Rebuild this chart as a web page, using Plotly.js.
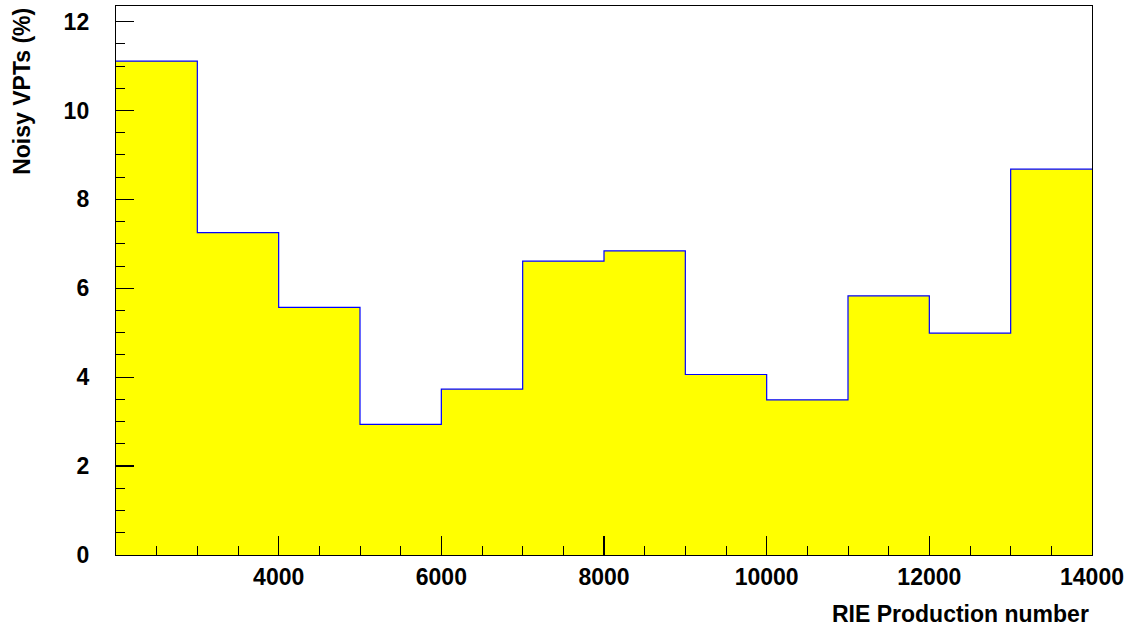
<!DOCTYPE html>
<html>
<head>
<meta charset="utf-8">
<script src="https://cdn.plot.ly/plotly-3.0.1.min.js"></script>
<style>
html,body{margin:0;padding:0;background:#fff;}
#chart{width:1129px;height:627px;}
</style>
</head>
<body>
<div id="chart"></div>
<script>
// Histogram bin edges (RIE production number) and contents (% noisy VPTs)
var binEdges = [2000, 3000, 4000, 5000, 6000, 7000, 8000, 9000, 10000, 11000, 12000, 13000, 14000];
var noisyPct = [11.11, 7.25, 5.57, 2.94, 3.73, 6.61, 6.84, 4.06, 3.49, 5.83, 4.99, 8.68];
var xTickVals = [4000, 6000, 8000, 10000, 12000, 14000];
var xTickText = ["4000", "6000", "8000", "10000", "12000", "14000"];
var yTickVals = [0, 2, 4, 6, 8, 10, 12];
var yTickText = ["0", "2", "4", "6", "8", "10", "12"];
var xTitle = "RIE Production number";
var yTitle = "Noisy VPTs (%)";

// build step outline from bins
var sx = [], sy = [];
for (var i = 0; i < noisyPct.length; i++) {
  sx.push(binEdges[i]); sy.push(noisyPct[i]);
  sx.push(binEdges[i + 1]); sy.push(noisyPct[i]);
}

var FONT = "Liberation Sans, Arial, Helvetica, sans-serif";

var trace = {
  type: "scatter",
  mode: "lines",
  x: sx,
  y: sy,
  fill: "tozeroy",
  fillcolor: "#ffff00",
  line: {color: "#0000ff", width: 1.2, shape: "linear"},
  hoverinfo: "x+y"
};

var layout = {
  width: 1129,
  height: 627,
  margin: {l: 115.5, r: 37, t: 6, b: 72, pad: 0},
  paper_bgcolor: "#ffffff",
  plot_bgcolor: "#ffffff",
  showlegend: false,
  font: {family: FONT, size: 23, color: "#000"},
  xaxis: {
    range: [2000, 14000],
    tickmode: "array",
    tickvals: xTickVals,
    ticktext: xTickText,
    ticks: "inside",
    ticklen: 19,
    tickwidth: 1.2,
    tickcolor: "#000",
    minor: {tickmode: "linear", tick0: 0, dtick: 500, ticks: "inside", ticklen: 9, tickwidth: 1, tickcolor: "#000", showgrid: false},
    showgrid: false,
    zeroline: false,
    showline: true,
    linecolor: "#000",
    linewidth: 1.2,
    mirror: true,
    tickfont: {family: FONT, size: 23, weight: "bold", color: "#000"},
    ticklabelstandoff: 1,
    layer: "above traces"
  },
  yaxis: {
    range: [0, 12.35],
    tickmode: "array",
    tickvals: yTickVals,
    ticktext: yTickText,
    ticks: "inside",
    ticklen: 18,
    tickwidth: 1.2,
    tickcolor: "#000",
    minor: {tickmode: "linear", tick0: 0, dtick: 0.5, ticks: "inside", ticklen: 9, tickwidth: 1, tickcolor: "#000", showgrid: false},
    showgrid: false,
    zeroline: false,
    showline: true,
    linecolor: "#000",
    linewidth: 1.2,
    mirror: true,
    tickfont: {family: FONT, size: 23, weight: "bold", color: "#000"},
    ticklabelstandoff: 21,
    layer: "above traces"
  },
  annotations: [
    {
      text: xTitle,
      xref: "paper", yref: "paper",
      x: 1, y: -0.108,
      xanchor: "right", yanchor: "middle",
      xshift: -1,
      showarrow: false,
      font: {family: FONT, size: 23, weight: "bold", color: "#000"}
    },
    {
      text: yTitle,
      xref: "paper", yref: "paper",
      x: -0.097, y: 1,
      xanchor: "center", yanchor: "top",
      yshift: 0,
      textangle: -90,
      showarrow: false,
      font: {family: FONT, size: 23, weight: "bold", color: "#000"}
    }
  ]
};

Plotly.newPlot("chart", [trace], layout, {displayModeBar: false, staticPlot: true});
</script>
</body>
</html>
